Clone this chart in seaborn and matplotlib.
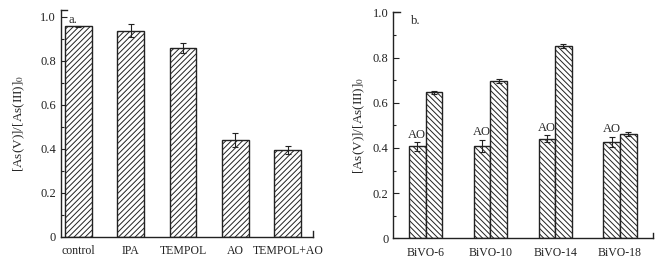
import numpy as np
import pandas as pd
import matplotlib
matplotlib.use('Agg')
import matplotlib.pyplot as plt
import seaborn as sns

# panel a data
cats_a = ['control', 'IPA', 'TEMPOL', 'AO', 'TEMPOL+AO']
vals_a = [0.956, 0.936, 0.857, 0.440, 0.395]
errs_a = [0.003, 0.030, 0.021, 0.030, 0.018]

# panel b data
cats_b = ['BiVO-6', 'BiVO-10', 'BiVO-14', 'BiVO-18']
vals_ao = [0.407, 0.410, 0.442, 0.428]
errs_ao = [0.020, 0.027, 0.014, 0.022]
vals_no = [0.646, 0.696, 0.852, 0.462]
errs_no = [0.008, 0.010, 0.008, 0.007]

yticks = [0, 0.2, 0.4, 0.6, 0.8, 1.0]
yticklabels = ['0', '0.2', '0.4', '0.6', '0.8', '1.0']
yminor = [0.1, 0.3, 0.5, 0.7, 0.9]

sns.set_style('ticks')
plt.rcParams['font.family'] = ['Liberation Serif', 'DejaVu Serif']
plt.rcParams['hatch.linewidth'] = 0.7
plt.rcParams['mathtext.fontset'] = 'stix'

fig = plt.figure(figsize=(6.63, 2.64), dpi=100)
ax1 = fig.add_axes([0.092, 0.103, 0.380, 0.859])
ax2 = fig.add_axes([0.593, 0.097, 0.392, 0.856])

df_a = pd.DataFrame({'cat': cats_a, 'val': vals_a})
sns.barplot(data=df_a, x='cat', y='val', ax=ax1, color='white', width=0.51,
            edgecolor='#222222', linewidth=1.0, hatch='//////')
ax1.errorbar(np.arange(len(cats_a)), vals_a, yerr=errs_a, fmt='none',
             ecolor='#222222', elinewidth=0.8, capsize=2.5, capthick=0.8)

df_b = pd.DataFrame({'cat': cats_b * 2, 'val': vals_ao + vals_no,
                     'grp': ['AO'] * 4 + ['none'] * 4})
sns.barplot(data=df_b, x='cat', y='val', hue='grp', ax=ax2, width=0.51,
            palette=['white', 'white'], edgecolor='#222222', linewidth=1.0,
            hatch='\\\\\\\\\\\\', legend=False)
xb = np.arange(len(cats_b))
ax2.errorbar(xb - 0.1275, vals_ao, yerr=errs_ao, fmt='none', ecolor='#222222',
             elinewidth=0.8, capsize=2.5, capthick=0.8)
ax2.errorbar(xb + 0.1275, vals_no, yerr=errs_no, fmt='none', ecolor='#222222',
             elinewidth=0.8, capsize=2.5, capthick=0.8)
for i in range(len(cats_b)):
    ax2.text(xb[i] - 0.1275, vals_ao[i] + errs_ao[i] + 0.006, 'AO',
             ha='center', va='bottom', fontsize=9)

for ax, xl, yl, lab, lpos in [(ax1, (-0.33, 4.48), (0, 1.03), 'a.', (0.03, 0.955)),
                              (ax2, (-0.5, 3.51), (0, 1.0), 'b.', (0.07, 0.96))]:
    ax.set_xlim(*xl)
    ax.set_ylim(*yl)
    ax.set_xlabel('')
    ax.set_ylabel(r'[As(V)]/[As(III)]$_0$', fontsize=9.5)
    ax.set_yticks(yticks)
    ax.set_yticklabels(yticklabels)
    ax.set_yticks(yminor, minor=True)
    ax.tick_params(axis='y', which='major', direction='in', length=4.5, width=0.8,
                   labelsize=9, colors='#222222')
    ax.tick_params(axis='y', which='minor', direction='in', length=2.5, width=0.8,
                   colors='#222222')
    ax.tick_params(axis='x', length=0, labelsize=8.5, colors='#222222', pad=6)
    for s in ['left', 'bottom']:
        ax.spines[s].set_linewidth(1.0)
        ax.spines[s].set_color('#222222')
    ax.spines['right'].set_visible(True)
    ax.spines['right'].set_bounds(0, 0.025)
    ax.spines['right'].set_linewidth(1.0)
    ax.spines['right'].set_color('#222222')
    ax.spines['top'].set_visible(True)
    ax.spines['top'].set_bounds(xl[0], xl[0] + (xl[1] - xl[0]) * 0.025)
    ax.spines['top'].set_linewidth(1.0)
    ax.spines['top'].set_color('#222222')
    ax.text(lpos[0], lpos[1], lab, transform=ax.transAxes, fontsize=9,
            ha='left', va='center')

ax1.yaxis.set_label_coords(-0.135, 0.5)
ax2.yaxis.set_label_coords(-0.10, 0.5)

fig.savefig('out.png', dpi=100)
